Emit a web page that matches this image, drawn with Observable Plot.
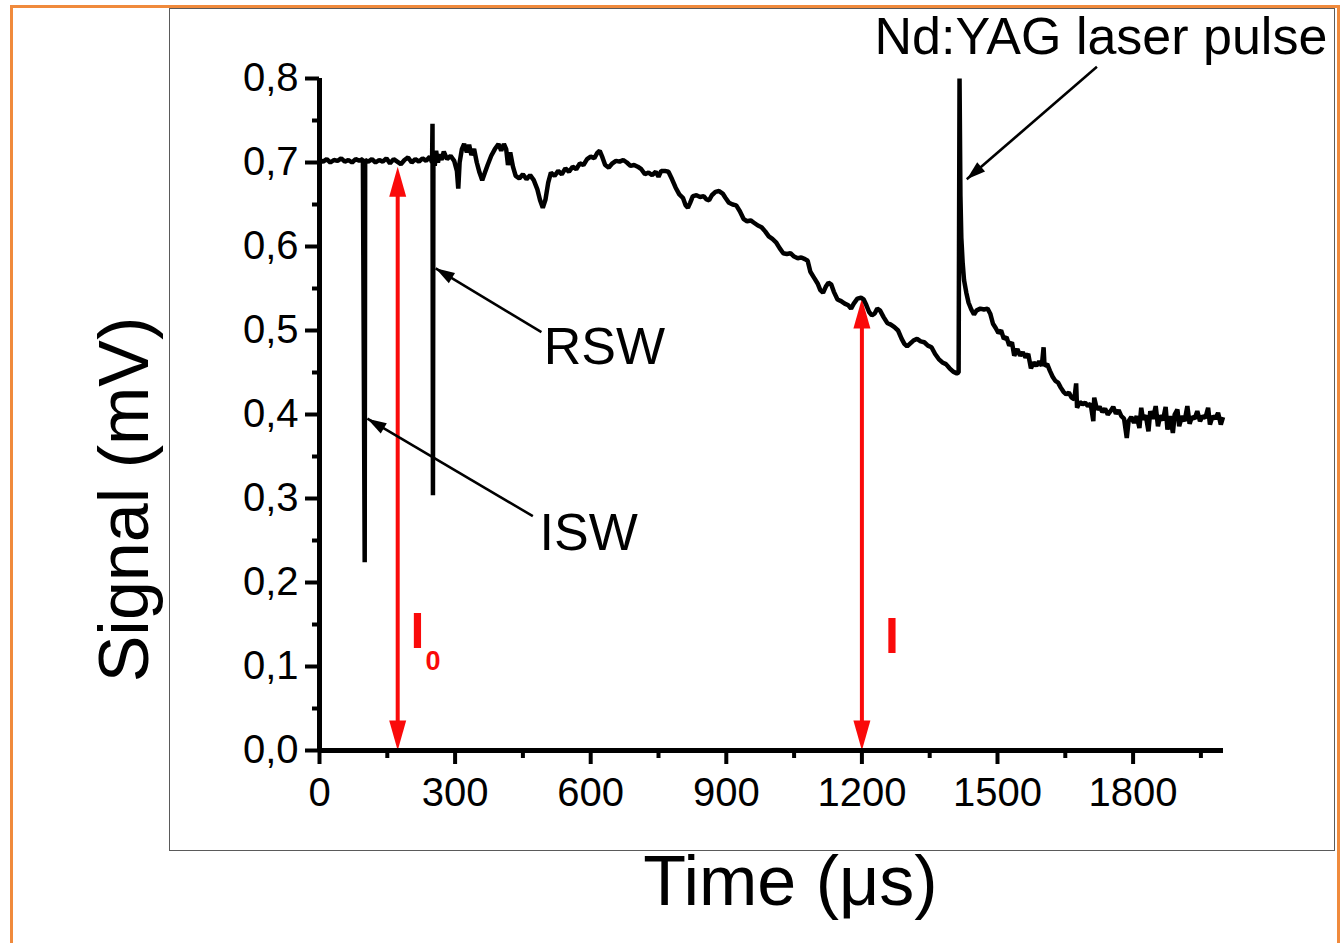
<!DOCTYPE html>
<html>
<head>
<meta charset="utf-8">
<script src="https://cdn.jsdelivr.net/npm/d3@7"></script>
<script src="https://cdn.jsdelivr.net/npm/@observablehq/plot@0.6"></script>
<style>
  html, body { margin: 0; padding: 0; background: #fff; }
  #wrap { position: relative; width: 1340px; height: 943px; overflow: hidden; background: #fff;
          font-family: "Liberation Sans", Arial, sans-serif; color: #000; }
  #chart { position: absolute; left: 0; top: 0; }
  .orange { position: absolute; left: 10px; top: 5px; width: 1324px; height: 1000px;
            border: 3px solid #f08a3c; pointer-events: none; }
  .frame { position: absolute; left: 169px; top: 8px; width: 1164px; height: 841px;
           border: 1.5px solid #5a5a5a; pointer-events: none; }
</style>
</head>
<body>
<div id="wrap">
  <div id="chart"></div>
  <div class="frame"></div>
  <div class="orange"></div>
</div>
<script>
// ---- data ----
const time = [
  0, 8, 16, 24, 32, 40, 48, 56, 64, 72, 80, 88, 96, 100, 101, 108, 116, 124, 132, 140,
  148, 156, 164, 172, 180, 188, 196, 204, 212, 220, 228, 236, 244, 249, 250, 251, 252, 255, 258, 262,
  266, 270, 275, 282, 290, 298, 304, 307, 310, 315, 320, 326, 331, 336, 342, 348, 354, 360, 366, 372,
  380, 388, 396, 402, 408, 413, 417, 422, 428, 434, 442, 450, 458, 466, 474, 482, 488, 494, 500, 506,
  512, 520, 528, 536, 544, 552, 560, 568, 576, 584, 592, 600, 608, 614, 620, 626, 632, 640, 648, 656,
  664, 672, 680, 688, 696, 704, 712, 720, 728, 736, 744, 750, 756, 764, 772, 780, 788, 796, 804, 810,
  815, 820, 826, 834, 842, 850, 856, 862, 868, 876, 884, 892, 898, 906, 914, 922, 930, 938, 946, 954,
  962, 970, 978, 986, 994, 1002, 1010, 1018, 1026, 1034, 1042, 1050, 1058, 1066, 1074, 1080, 1086, 1094, 1102, 1108,
  1114, 1120, 1126, 1132, 1138, 1146, 1154, 1162, 1170, 1176, 1182, 1190, 1198, 1204, 1210, 1216, 1222, 1228, 1234, 1240,
  1248, 1256, 1264, 1272, 1280, 1288, 1294, 1300, 1306, 1314, 1322, 1330, 1338, 1346, 1354, 1362, 1370, 1378, 1386, 1394,
  1402, 1410, 1414, 1416, 1418, 1420, 1423, 1426, 1431, 1436, 1442, 1448, 1454, 1462, 1470, 1478, 1484, 1490, 1496, 1502,
  1508, 1514, 1520, 1526, 1532, 1537, 1544, 1550, 1556, 1562, 1568, 1574, 1580, 1586, 1592, 1598, 1602, 1604, 1610, 1616,
  1622, 1628, 1634, 1640, 1646, 1652, 1658, 1664, 1670, 1674, 1676, 1682, 1688, 1694, 1700, 1706, 1712, 1714, 1720, 1726,
  1732, 1738, 1744, 1750, 1756, 1762, 1768, 1774, 1780, 1786, 1790, 1796, 1802, 1808, 1814, 1818, 1822, 1828, 1834, 1838,
  1844, 1850, 1855, 1860, 1866, 1872, 1876, 1882, 1888, 1892, 1898, 1902, 1908, 1914, 1920, 1925, 1930, 1936, 1942, 1948,
  1954, 1960, 1966, 1970, 1976, 1982, 1988, 1994, 1999
];
const signal = [
  0.703, 0.701, 0.704, 0.700, 0.703, 0.702, 0.705, 0.701, 0.703, 0.700, 0.704, 0.702, 0.704, 0.224, 0.703, 0.701, 0.704, 0.700, 0.703, 0.701,
  0.705, 0.699, 0.704, 0.701, 0.698, 0.703, 0.706, 0.700, 0.704, 0.701, 0.705, 0.702, 0.707, 0.700, 0.746, 0.304, 0.712, 0.696, 0.714, 0.700,
  0.710, 0.703, 0.713, 0.704, 0.708, 0.702, 0.690, 0.669, 0.700, 0.716, 0.722, 0.712, 0.721, 0.709, 0.716, 0.700, 0.688, 0.679, 0.688, 0.697,
  0.708, 0.716, 0.722, 0.714, 0.722, 0.716, 0.697, 0.712, 0.695, 0.684, 0.681, 0.686, 0.680, 0.685, 0.679, 0.668, 0.655, 0.646, 0.656, 0.676,
  0.688, 0.684, 0.690, 0.686, 0.693, 0.689, 0.695, 0.692, 0.699, 0.697, 0.704, 0.707, 0.705, 0.711, 0.714, 0.706, 0.697, 0.694, 0.699, 0.702,
  0.701, 0.703, 0.700, 0.696, 0.697, 0.695, 0.692, 0.686, 0.688, 0.685, 0.689, 0.683, 0.690, 0.690, 0.689, 0.680, 0.670, 0.662, 0.658, 0.649,
  0.646, 0.652, 0.660, 0.661, 0.659, 0.660, 0.656, 0.655, 0.661, 0.665, 0.666, 0.663, 0.658, 0.652, 0.650, 0.649, 0.642, 0.633, 0.630, 0.631,
  0.628, 0.625, 0.623, 0.618, 0.612, 0.609, 0.605, 0.598, 0.592, 0.591, 0.592, 0.588, 0.586, 0.587, 0.585, 0.583, 0.570, 0.563, 0.556, 0.548,
  0.545, 0.552, 0.557, 0.555, 0.546, 0.537, 0.535, 0.532, 0.530, 0.526, 0.532, 0.538, 0.539, 0.537, 0.530, 0.522, 0.518, 0.520, 0.526, 0.524,
  0.516, 0.509, 0.507, 0.504, 0.500, 0.490, 0.484, 0.481, 0.484, 0.488, 0.490, 0.487, 0.486, 0.482, 0.480, 0.472, 0.466, 0.462, 0.460, 0.455,
  0.451, 0.449, 0.450, 0.800, 0.660, 0.610, 0.580, 0.560, 0.545, 0.533, 0.525, 0.519, 0.524, 0.526, 0.525, 0.526, 0.520, 0.508, 0.503, 0.497,
  0.500, 0.490, 0.492, 0.482, 0.486, 0.470, 0.478, 0.470, 0.474, 0.468, 0.472, 0.455, 0.462, 0.458, 0.463, 0.458, 0.480, 0.458, 0.460, 0.452,
  0.445, 0.440, 0.438, 0.432, 0.427, 0.424, 0.426, 0.420, 0.418, 0.437, 0.408, 0.415, 0.412, 0.414, 0.410, 0.413, 0.392, 0.420, 0.406, 0.409,
  0.403, 0.407, 0.400, 0.404, 0.409, 0.401, 0.405, 0.398, 0.395, 0.372, 0.392, 0.397, 0.390, 0.398, 0.384, 0.408, 0.394, 0.399, 0.380, 0.404,
  0.395, 0.410, 0.386, 0.399, 0.393, 0.409, 0.382, 0.398, 0.378, 0.400, 0.406, 0.386, 0.398, 0.392, 0.410, 0.389, 0.397, 0.395, 0.404, 0.392,
  0.398, 0.396, 0.408, 0.388, 0.398, 0.395, 0.402, 0.388, 0.397
];

const xTicks = [0, 300, 600, 900, 1200, 1500, 1800];
const xTickLabels = ["0", "300", "600", "900", "1200", "1500", "1800"];
const xMinorTicks = [150, 450, 750, 1050, 1350, 1650, 1950];
const yTicks = [0, 0.1, 0.2, 0.3, 0.4, 0.5, 0.6, 0.7, 0.8];
const yTickLabels = ["0,0", "0,1", "0,2", "0,3", "0,4", "0,5", "0,6", "0,7", "0,8"];
const yMinorTicks = [0.05, 0.15, 0.25, 0.35, 0.45, 0.55, 0.65, 0.75];

const xTitle = "Time (\u03bcs)";
const yTitle = "Signal (mV)";

// annotation labels (data coordinates)
const noteText = ["RSW", "ISW", "Nd:YAG laser pulse"];
const noteT = [496, 487, 1228];
const noteV = [0.480, 0.258, 0.849];

// black pointer arrows: from (text) -> to (feature)
const pointerFromT = [491, 472, 1720];
const pointerFromV = [0.498, 0.279, 0.814];
const pointerToT = [257, 106, 1432];
const pointerToV = [0.574, 0.395, 0.680];

// red double arrows (I0 and I)
const redArrowT = [173, 1200];
const redArrowTop = [0.695, 0.538];
const redLabelText = ["I", "I"];
const redLabelT = [201.5, 1251];
const redLabelV = [0.1405, 0.1357];
const redSubText = ["0"];
const redSubT = [234.7];
const redSubV = [0.1066];

// ---- build ----
const W = 1340, H = 943, mL = 319, mR = 117, mT = 78, mB = 193;
const xDomain = [0, 2000], yDomain = [0, 0.8];
const kx = (W - mL - mR) / (xDomain[1] - xDomain[0]);
const ky = (H - mT - mB) / (yDomain[1] - yDomain[0]);

const trace = time.map((t, i) => ({t, v: signal[i]}));
const notes = noteText.map((s, i) => ({s, t: noteT[i], v: noteV[i], big: i === 2}));
const pointers = pointerFromT.map((t, i) => {
  const x1 = t, y1 = pointerFromV[i], x2 = pointerToT[i], y2 = pointerToV[i];
  const dx = (x2 - x1) * kx, dy = -(y2 - y1) * ky;
  return {x1, y1, x2, y2, angle: Math.atan2(dx, -dy) * 180 / Math.PI};
});
const redArrows = redArrowT.map((t, i) => ({t, top: redArrowTop[i]}));
const redHeads = redArrows.flatMap(d => [{t: d.t, v: d.top, angle: 0}, {t: d.t, v: 0, angle: 180}]);
const redLabels = redLabelText.map((s, i) => ({s, t: redLabelT[i], v: redLabelV[i]}));
const redSubs = redSubText.map((s, i) => ({s, t: redSubT[i], v: redSubV[i]}));

const blackHead = {draw(ctx) { ctx.moveTo(0, 0); ctx.lineTo(-6, 19); ctx.lineTo(6, 19); ctx.closePath(); }};
const redHead = {draw(ctx) { ctx.moveTo(0, 0); ctx.lineTo(-8.5, 30); ctx.lineTo(8.5, 30); ctx.closePath(); }};
const RED = "#fa0a0a";

const plot = Plot.plot({
  width: W, height: H,
  marginLeft: mL, marginRight: mR, marginTop: mT, marginBottom: mB,
  style: {background: "transparent", fontFamily: "'Liberation Sans', Arial, sans-serif", fontSize: "40px", color: "#000", overflow: "visible"},
  x: {domain: xDomain},
  y: {domain: yDomain},
  marks: [
    // red double arrows
    Plot.ruleX(redArrows, {x: "t", y1: "top", y2: d => 0, stroke: RED, strokeWidth: 4, insetTop: 22, insetBottom: 22}),
    Plot.dot(redHeads, {x: "t", y: "v", rotate: "angle", symbol: redHead, fill: RED, stroke: "none"}),
    // trace
    Plot.line(trace, {x: "t", y: "v", stroke: "#000", strokeWidth: 4.5, strokeLinejoin: "miter", strokeLinecap: "butt"}),
    // axes
    Plot.axisX({ticks: xMinorTicks, tickSize: 8, strokeWidth: 4, tickFormat: () => "", label: null}),
    Plot.axisY({ticks: yMinorTicks, tickSize: 7, strokeWidth: 4, tickFormat: () => "", label: null}),
    Plot.axisX({ticks: xTicks, tickSize: 14, tickPadding: 13, strokeWidth: 4, fontSize: 40,
                tickFormat: d => xTickLabels[xTicks.indexOf(d)], label: null}),
    Plot.axisY({ticks: yTicks, tickSize: 14, tickPadding: 7, strokeWidth: 4, fontSize: 40,
                tickFormat: d => yTickLabels[yTicks.indexOf(d)], label: null}),
    Plot.ruleY([0], {stroke: "#000", strokeWidth: 5}),
    Plot.ruleX([0], {stroke: "#000", strokeWidth: 5}),
    // pointer arrows
    Plot.link(pointers, {x1: "x1", y1: "y1", x2: "x2", y2: "y2", stroke: "#000", strokeWidth: 2.5}),
    Plot.dot(pointers, {x: "x2", y: "y2", rotate: "angle", symbol: blackHead, fill: "#000", stroke: "none"}),
    // annotation text
    Plot.text(notes.filter(d => !d.big), {x: "t", y: "v", text: "s", fontSize: 52, textAnchor: "start", lineAnchor: "middle", fill: "#000"}),
    Plot.text(notes.filter(d => d.big), {x: "t", y: "v", text: "s", fontSize: 52, textAnchor: "start", lineAnchor: "middle", fill: "#000"}),
    Plot.text(redLabels, {x: "t", y: "v", text: "s", fontSize: 50, fontWeight: "bold", textAnchor: "start", lineAnchor: "middle", fill: RED}),
    Plot.text(redSubs, {x: "t", y: "v", text: "s", fontSize: 27, fontWeight: "bold", textAnchor: "start", lineAnchor: "middle", fill: RED}),
    // axis titles
    Plot.text([xTitle], {frameAnchor: "bottom", text: d => d, fontSize: 70, textAnchor: "middle", lineAnchor: "middle", dx: 19, dy: 132, fill: "#000"}),
    Plot.text([yTitle], {frameAnchor: "left", text: d => d, fontSize: 70, rotate: -90, textAnchor: "middle", lineAnchor: "middle", dx: -194, dy: 85, fill: "#000"})
  ]
});
document.getElementById("chart").appendChild(plot);
</script>
</body>
</html>
